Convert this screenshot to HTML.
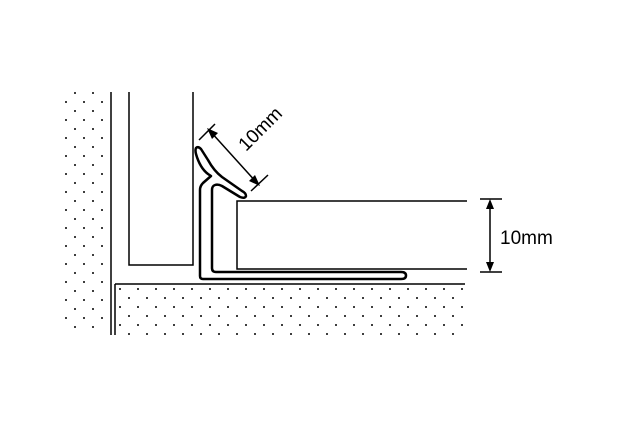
<!DOCTYPE html>
<html><head><style>
html,body{margin:0;padding:0;background:#fff;}
svg{display:block;}
</style></head><body>
<svg width="630" height="426" viewBox="0 0 630 426" xmlns="http://www.w3.org/2000/svg">
<defs>
<pattern id="d" x="0" y="0" width="18" height="18" patternUnits="userSpaceOnUse">
<circle cx="3" cy="3" r="1" fill="#000"/><circle cx="12" cy="12" r="1" fill="#000"/>
</pattern>
<pattern id="d2" x="115" y="284" width="18" height="18" patternUnits="userSpaceOnUse">
<circle cx="5" cy="5" r="1" fill="#000"/><circle cx="14" cy="14" r="1" fill="#000"/>
</pattern>
</defs>
<rect x="62" y="92" width="47" height="243" fill="url(#d)"/>
<rect x="117" y="286" width="348" height="49" fill="url(#d2)"/>
<g fill="none" stroke="#000" stroke-width="1.5">
<line x1="111" y1="92" x2="111" y2="335"/>
<line x1="115" y1="284" x2="465" y2="284"/>
<line x1="115" y1="284" x2="115" y2="335"/>
<polyline points="129,92 129,265 193,265 193,92"/>
<polyline points="467,201 237,201 237,269 467,269"/>
<line x1="480" y1="199" x2="502" y2="199"/>
<line x1="480" y1="272" x2="502" y2="272"/>
<line x1="490" y1="202" x2="490" y2="269"/>
<line x1="199" y1="140" x2="215" y2="124"/>
<line x1="251" y1="191" x2="268" y2="175"/>
<line x1="210" y1="131" x2="257" y2="183"/>
</g>
<g fill="#000">
<polygon points="490,199 486,209 494,209"/>
<polygon points="490,272 486,262 494,262"/>
<polygon points="207,128 218,133 212,139"/>
<polygon points="260,186 249,181 255,175"/>
</g>
<g fill="none" stroke="#000" stroke-width="2.5" stroke-linejoin="round">
<path d="M211,176 L203,183 Q200,186 200,190 L200,276 Q200,279 203,279 L401,279 Q406,279 406,275.5 Q406,272 401,272 L216,272 Q212,272 212,268 L212,190 Q212,186 215,185 Q218,184 222,186 L240,197 Q245,199 246,196 Q246,193 242,191 L222,177 Q214,171 208,160 L201,149 Q198,146 196,148 Q195,150 196,154 Q200,168 208,174 Z"/>
</g>
<text x="0" y="0" transform="translate(246,152) rotate(-45)" font-family="Liberation Sans, sans-serif" font-size="19">10mm</text>
<text x="500" y="244" font-family="Liberation Sans, sans-serif" font-size="19">10mm</text>
</svg>
</body></html>
